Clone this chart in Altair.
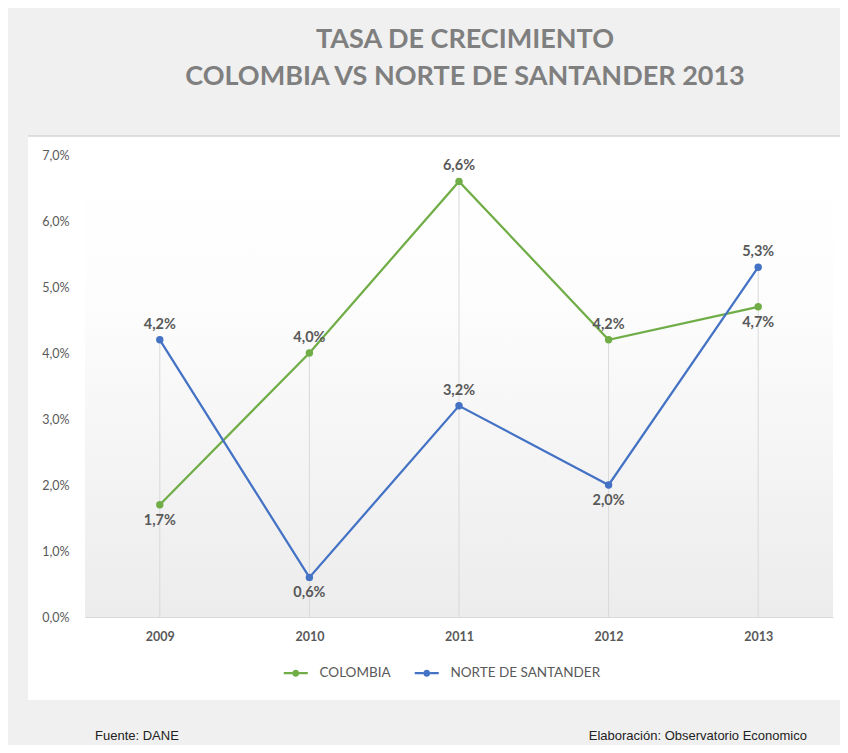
import altair as alt
import pandas as pd

anios = ["2009", "2010", "2011", "2012", "2013"]
colombia = [1.7, 4.0, 6.6, 4.2, 4.7]
norte = [4.2, 0.6, 3.2, 2.0, 5.3]
series = ["COLOMBIA", "NORTE DE SANTANDER"]
colores = ["#70ad47", "#4472c4"]
y_ticks = [0, 1, 2, 3, 4, 5, 6, 7]
titulo = ["TASA DE CRECIMIENTO", "COLOMBIA VS NORTE DE SANTANDER 2013"]
fuente = "Fuente: DANE"
elaboracion = "Elaboración: Observatorio Economico"

rows = []
for a, c, n in zip(anios, colombia, norte):
    rows.append({"anio": a, "serie": series[0], "valor": c / 100})
    rows.append({"anio": a, "serie": series[1], "valor": n / 100})
df = pd.DataFrame(rows)
df["serie_p"] = df["serie"]
debajo = {(series[0], "2009"), (series[0], "2013"), (series[1], "2010"), (series[1], "2012")}
df["debajo"] = [(s, a) in debajo for s, a in zip(df.serie, df.anio)]
df["etiqueta"] = [f"{v * 100:.1f}%".replace(".", ",") for v in df.valor]

W, H = 748, 462
GRAY = "#595959"

x_enc = alt.X("anio:O", sort=anios, scale=alt.Scale(type="point", padding=0.5),
              axis=alt.Axis(title=None, labelAngle=0, labelFont="Lato", labelFontSize=12.5,
                            labelFontWeight="bold", labelColor=GRAY, labelPadding=13,
                            ticks=False, domainColor="#d9d9d9", domainWidth=1.2,
                            grid=False, zindex=1))
y_scale = alt.Scale(domain=[0, 0.07], nice=False, zero=True)
y_axis = alt.Axis(title=None, values=[t / 100 for t in y_ticks],
                  labelExpr="replace(format(datum.value, '.1%'), '.', ',')",
                  labelFont="Lato", labelFontSize=12.5, labelColor=GRAY, labelPadding=16,
                  ticks=False, domain=False, grid=False, zindex=1)
y_enc = alt.Y("valor:Q", scale=y_scale, axis=y_axis)

# legend symbol: short line with a dot in the middle (filled shapes only)
simbolo = ("M-2.4,-0.22H-0.68V0.22H-2.4Z"
           "M0.68,-0.22H2.4V0.22H0.68Z"
           "M-0.7,0a0.7,0.7 0 1,0 1.4,0a0.7,0.7 0 1,0 -1.4,0Z")
leg = alt.Legend(title=None, orient="none", legendX=204, legendY=511,
                 direction="horizontal", labelFont="Lato", labelFontSize=13.5,
                 labelColor=GRAY, labelOffset=17, columnPadding=23, symbolSize=100,
                 symbolOpacity=1, symbolStrokeWidth=0, symbolType=simbolo)

one = alt.Data(values=[{}])

panel = alt.Chart(one).mark_rect(fill="white").encode(
    x=alt.value(-57), x2=alt.value(W + 7), y=alt.value(-19), y2=alt.value(545))
panel_line = alt.Chart(one).mark_rule(color="#d6d6d6", strokeWidth=1.5).encode(
    x=alt.value(-57), x2=alt.value(W + 7), y=alt.value(-19))
grad = alt.Chart(one).mark_rect(
    color=alt.Gradient(gradient="linear",
                       stops=[alt.GradientStop(color="#ffffff", offset=0),
                              alt.GradientStop(color="#fdfdfd", offset=0.3),
                              alt.GradientStop(color="#ececec", offset=1)],
                       x1=0, x2=0, y1=0, y2=1)).encode(
    x=alt.value(0), x2=alt.value(W), y=alt.value(0), y2=alt.value(H))

drops = alt.Chart(df).transform_aggregate(
    valor="max(valor)", groupby=["anio"]).mark_rule(color="#d9d9d9", strokeWidth=1).encode(
    x=x_enc, y=y_enc, y2=alt.datum(0))

lines = alt.Chart(df).mark_line(strokeWidth=2.25).encode(
    x=x_enc, y=y_enc,
    stroke=alt.Stroke("serie:N", scale=alt.Scale(domain=series, range=colores), legend=None))
points = alt.Chart(df).mark_point(size=55, opacity=1, filled=True).encode(
    x=x_enc, y=y_enc,
    fill=alt.Fill("serie_p:N", scale=alt.Scale(range=colores), legend=leg))

lab_up = alt.Chart(df).transform_filter("!datum.debajo").mark_text(
    font="Lato", fontSize=14.5, fontWeight="bold", color=GRAY, dy=-15).encode(
    x=x_enc, y=y_enc, text="etiqueta:N")
lab_dn = alt.Chart(df).transform_filter("datum.debajo").mark_text(
    font="Lato", fontSize=14.5, fontWeight="bold", color=GRAY, dy=16).encode(
    x=x_enc, y=y_enc, text="etiqueta:N")

t1 = alt.Chart(one).mark_text(text=titulo[0], font="Lato", fontSize=27, fontWeight="bold",
                              color="#7f7f7f", align="center", baseline="middle").encode(
    x=alt.value(380), y=alt.value(-115))
t2 = alt.Chart(one).mark_text(text=titulo[1], font="Lato", fontSize=27, fontWeight="bold",
                              color="#7f7f7f", align="center", baseline="middle").encode(
    x=alt.value(380), y=alt.value(-78))
f1 = alt.Chart(one).mark_text(text=fuente, font="Liberation Sans", fontSize=13,
                              color="#222222", align="left", baseline="middle").encode(
    x=alt.value(10), y=alt.value(581))
f2 = alt.Chart(one).mark_text(text=elaboracion, font="Liberation Sans", fontSize=13,
                              color="#222222", align="right", baseline="middle").encode(
    x=alt.value(722), y=alt.value(581))

chart = alt.layer(panel, panel_line, grad, drops, lines, points, lab_up, lab_dn, t1, t2, f1, f2).properties(
    width=W, height=H, background="#f0f0f0",
    padding={"left": 77, "top": 147, "right": 7, "bottom": 128},
    autosize=alt.AutoSizeParams(type="none"),
).configure_view(stroke=None)

chart.save("out.html", embed_options={"renderer": "svg", "actions": False})
